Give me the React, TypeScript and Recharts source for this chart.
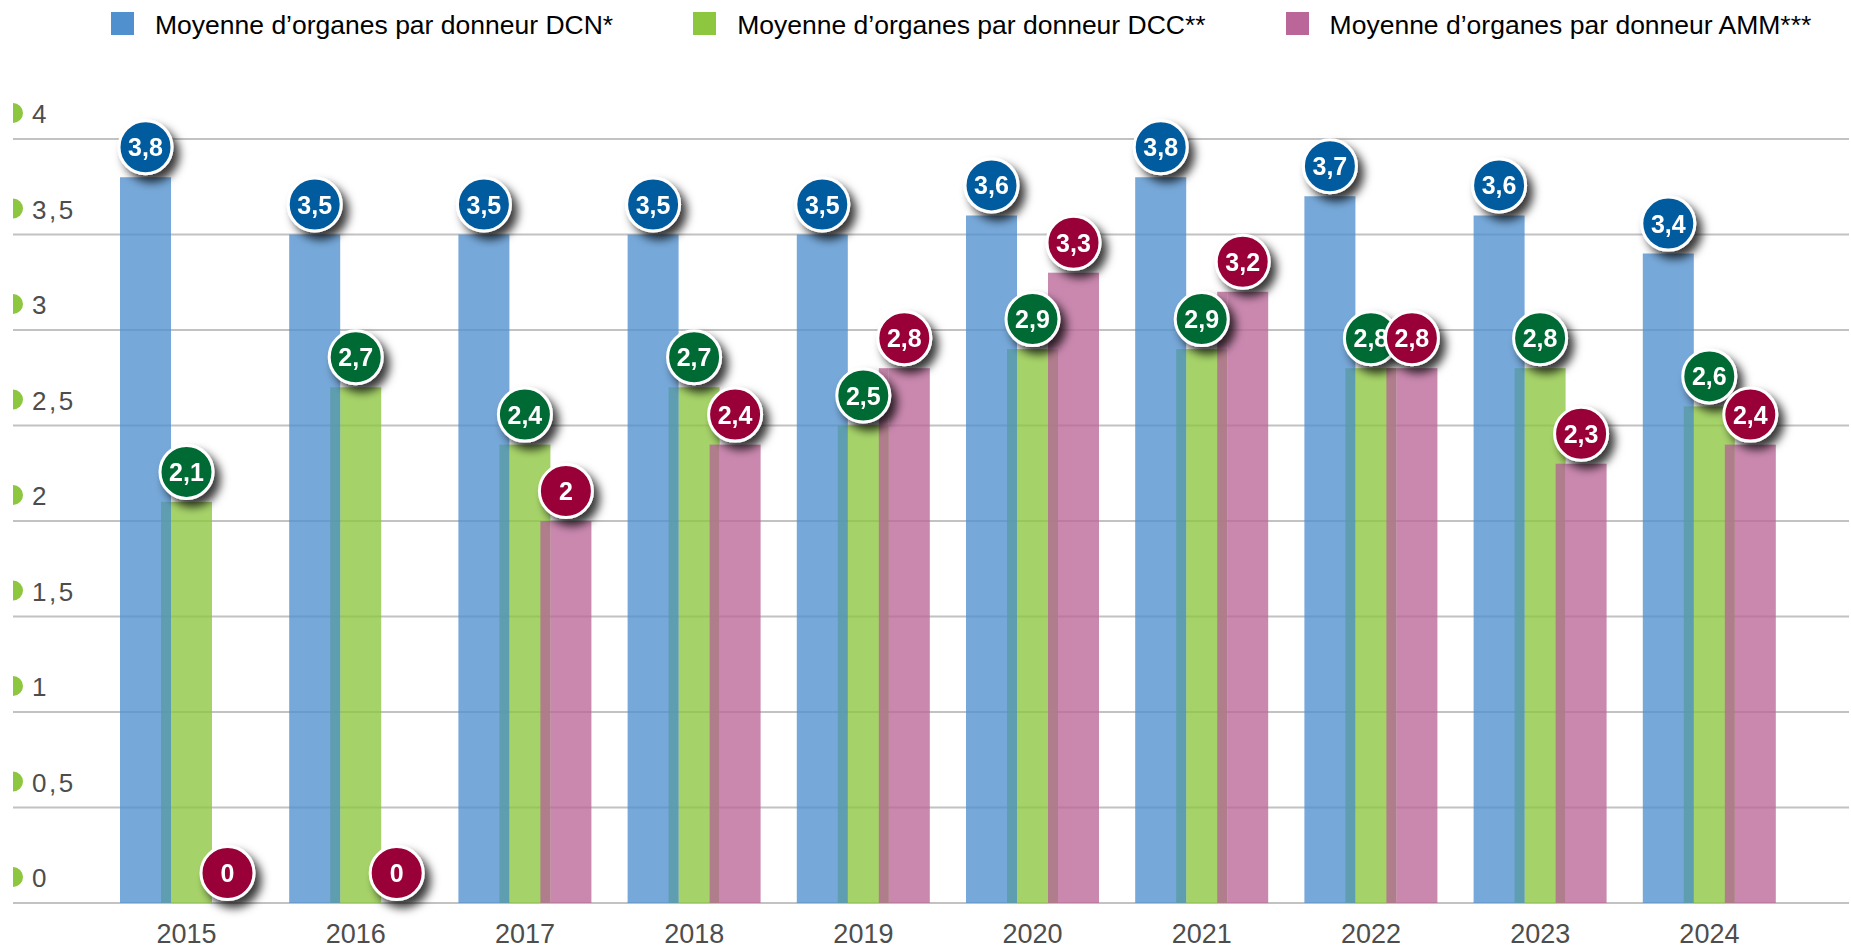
import React from "react";
import { Bar, BarChart, CartesianGrid, LabelList, Legend, XAxis, YAxis } from "recharts";

const YEARS = ["2015", "2016", "2017", "2018", "2019", "2020", "2021", "2022", "2023", "2024"];
const DCN = [3.8, 3.5, 3.5, 3.5, 3.5, 3.6, 3.8, 3.7, 3.6, 3.4];
const DCC = [2.1, 2.7, 2.4, 2.7, 2.5, 2.9, 2.9, 2.8, 2.8, 2.6];
const AMM = [0, 0, 2, 2.4, 2.8, 3.3, 3.2, 2.8, 2.3, 2.4];
const Y_TICKS = [0, 0.5, 1, 1.5, 2, 2.5, 3, 3.5, 4];
const SERIES_NAMES = [
  "Moyenne d’organes par donneur DCN*",
  "Moyenne d’organes par donneur DCC**",
  "Moyenne d’organes par donneur AMM***",
];

const data = YEARS.map((year, i) => ({ year, dcn: DCN[i], dcc: DCC[i], amm: AMM[i] }));

const W = 1851;
const H = 949;
const PLOT_TOP = 139;
const X_AXIS_H = 46;
const PLOT_BOTTOM = H - X_AXIS_H;
const FONT = '"Liberation Sans", Arial, Helvetica, sans-serif';

const BAR_SIZE = 51;
const OVERLAP = 10;
const BAR_OPACITY = 0.78;

const BLUE = "#5090CE";
const GREEN = "#8DC63F";
const PINK = "#BB6699";
const TEAL_STRIP = "#589BA4";
const MAUVE_STRIP = "#B36596";
const SERIES_COLORS = [BLUE, GREEN, PINK];

const fmt = (v: number) => String(v).replace(".", ",");

// bar that sits partly over the previous one: left strip gets a blended colour
function overlapShape(key: string, prevKey: string, color: string, strip: string) {
  return (p: any) => {
    const { x, y, width, height, payload } = p;
    const v = payload[key];
    if (!v || !height || height <= 0) return <g />;
    const ovH = (height * Math.min(payload[prevKey], v)) / v;
    return (
      <g>
        <rect x={x + OVERLAP} y={y} width={width - OVERLAP} height={height} fill={color} fillOpacity={BAR_OPACITY} />
        {height - ovH > 0 && (
          <rect x={x} y={y} width={OVERLAP} height={height - ovH} fill={color} fillOpacity={BAR_OPACITY} />
        )}
        <rect x={x} y={y + height - ovH} width={OVERLAP} height={ovH} fill={strip} fillOpacity={BAR_OPACITY} />
      </g>
    );
  };
}

function badge(color: string) {
  return (p: any) => {
    const vb = p.viewBox ?? p;
    const cx = vb.x + vb.width / 2;
    const top = Number(p.value) === 0 ? vb.y + vb.height : vb.y;
    const cy = top - 30;
    return (
      <g filter="url(#badge-shadow)">
        <circle cx={cx} cy={cy} r={26.5} fill={color} stroke="#fff" strokeWidth={3} />
        <text
          x={cx}
          y={cy + 9}
          textAnchor="middle"
          fill="#fff"
          fontSize={25}
          fontWeight="bold"
          fontFamily={FONT}
        >
          {fmt(Number(p.value))}
        </text>
      </g>
    );
  };
}

const YTick = ({ y, payload }: any) => (
  <g>
    <path d={`M13,${y - 36} a10,10 0 0 1 0,20 z`} fill={GREEN} />
    <text x={32} y={y - 16} fontSize={26} letterSpacing={2.5} fill="#4D4D4D" fontFamily={FONT}>
      {fmt(payload.value)}
    </text>
  </g>
);

const XTick = ({ x, payload }: any) => (
  <text x={x} y={PLOT_BOTTOM + 40} textAnchor="middle" fontSize={27} fill="#4D4D4D" fontFamily={FONT}>
    {payload.value}
  </text>
);

const LegendContent = () => (
  <div
    style={{
      display: "flex",
      alignItems: "center",
      paddingLeft: 111,
      marginTop: 11,
      height: 24,
      fontFamily: FONT,
      fontSize: 26.5,
      color: "#000",
      whiteSpace: "nowrap",
    }}
  >
    {SERIES_NAMES.map((name, i) => (
      <div key={name} style={{ display: "flex", alignItems: "center", marginRight: 80 }}>
        <span style={{ width: 23, height: 23, background: SERIES_COLORS[i], display: "inline-block" }} />
        <span style={{ marginLeft: 21, marginTop: 4 }}>{name}</span>
      </div>
    ))}
  </div>
);

export default function App() {
  const xPad = { left: 89, right: 55 };
  return (
    <div style={{ position: "absolute", left: 0, top: 0, width: W, height: H, background: "#fff" }}>
      <svg width={0} height={0} style={{ position: "absolute" }}>
        <defs>
          <filter id="badge-shadow" x="-50%" y="-50%" width="200%" height="200%">
            <feDropShadow dx={6} dy={7} stdDeviation={5} floodColor="#000" floodOpacity={0.78} />
          </filter>
        </defs>
      </svg>
      <BarChart
        width={W}
        height={H}
        data={data}
        margin={{ top: PLOT_TOP, right: 2, bottom: 0, left: 0 }}
        barSize={BAR_SIZE}
        barGap={-OVERLAP}
      >
        <CartesianGrid vertical={false} stroke="#C2C2C2" strokeWidth={2} />
        <XAxis
          dataKey="year"
          height={X_AXIS_H}
          axisLine={false}
          tickLine={false}
          interval={0}
          padding={xPad}
          tick={<XTick />}
        />
        <XAxis xAxisId="labels" dataKey="year" hide padding={xPad} />
        <YAxis
          width={13}
          domain={[0, 4]}
          ticks={Y_TICKS}
          axisLine={false}
          tickLine={false}
          tick={<YTick />}
          interval={0}
        />
        <Legend
          verticalAlign="top"
          content={<LegendContent />}
          wrapperStyle={{ top: 0, left: 0, width: W, height: 0 }}
        />
        <Bar dataKey="dcn" fill={BLUE} fillOpacity={BAR_OPACITY} isAnimationActive={false} />
        <Bar dataKey="dcc" shape={overlapShape("dcc", "dcn", GREEN, TEAL_STRIP)} isAnimationActive={false} />
        <Bar dataKey="amm" shape={overlapShape("amm", "dcc", PINK, MAUVE_STRIP)} isAnimationActive={false} />

        {/* invisible copies on a hidden axis so the badges paint above every bar */}
        <Bar xAxisId="labels" dataKey="dcn" fill="transparent" minPointSize={1} isAnimationActive={false}>
          <LabelList dataKey="dcn" content={badge("#035C9E")} />
        </Bar>
        <Bar xAxisId="labels" dataKey="dcc" fill="transparent" minPointSize={1} isAnimationActive={false}>
          <LabelList dataKey="dcc" content={badge("#006A34")} />
        </Bar>
        <Bar xAxisId="labels" dataKey="amm" fill="transparent" minPointSize={1} isAnimationActive={false}>
          <LabelList dataKey="amm" content={badge("#990038")} />
        </Bar>
      </BarChart>
    </div>
  );
}
